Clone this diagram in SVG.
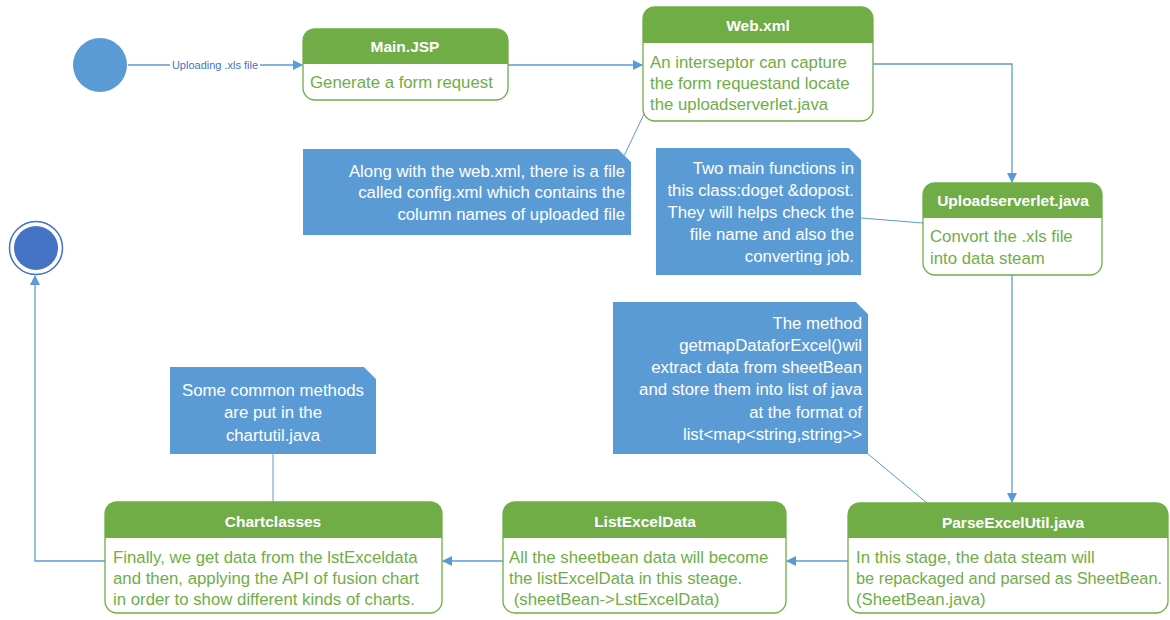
<svg xmlns="http://www.w3.org/2000/svg" width="1170" height="620" viewBox="0 0 1170 620">
<defs>
<style>
.box{fill:#fff;stroke:#70AD47;stroke-width:1.3}
.hdr{fill:#70AD47}
.title{font-family:"Liberation Sans",Arial,sans-serif;font-size:15.5px;font-weight:bold;fill:#fff;text-anchor:middle}
.body{font-family:"Liberation Sans",Arial,sans-serif;font-size:16.8px;fill:#70AD47}
.note{fill:#5B9BD5}
.fold{fill:none;stroke:#BDD7EE;stroke-width:1}
.ntext{font-family:"Liberation Sans",Arial,sans-serif;font-size:16.8px;fill:#fff}
.edge{fill:none;stroke:#5B9BD5;stroke-width:1.3}
.link{fill:none;stroke:#5B9BD5;stroke-width:1}
.lbl{font-family:"Liberation Sans",Arial,sans-serif;font-size:11px;fill:#4472C4}
</style>
<marker id="arr" markerWidth="10" markerHeight="10" refX="9" refY="5" orient="auto" markerUnits="userSpaceOnUse">
<path d="M0,0 L10,5 L0,10 Z" fill="#5B9BD5"/>
</marker>
</defs>
<rect width="1170" height="620" fill="#fff"/>

<g id="connectors">
<path class="edge" d="M128,65 H170 M260,65 H302" marker-end="url(#arr)"/>
<text class="lbl" x="215" y="68.5" text-anchor="middle">Uploading .xls file</text>
<path class="edge" d="M508,65 H642" marker-end="url(#arr)"/>
<path class="edge" d="M873,64 H1012 V182" marker-end="url(#arr)"/>
<path class="edge" d="M1012,275 V502" marker-end="url(#arr)"/>
<path class="edge" d="M848,561 H787" marker-end="url(#arr)"/>
<path class="edge" d="M503,561 H443" marker-end="url(#arr)"/>
<path class="edge" d="M105,561 H35 V276" marker-end="url(#arr)"/>
<path class="link" d="M624,156 L645,112"/>
<path class="link" d="M861,218 L923,223"/>
<path class="link" d="M868,454 L927,503"/>
<path class="link" d="M273,454 V502"/>
</g>

<g id="start">
<circle cx="100" cy="65" r="27" fill="#5B9BD5"/>
</g>

<g id="end">
<circle cx="36" cy="248" r="26.5" fill="#fff" stroke="#4472C4" stroke-width="1.5"/>
<circle cx="36" cy="248" r="22" fill="#4472C4"/>
</g>

<g id="mainjsp">
<rect class="box" x="303" y="29" width="205" height="71" rx="12"/>
<path class="hdr" d="M303,64 V41 Q303,29 315,29 H496 Q508,29 508,41 V64 Z"/>
<text class="title" x="405" y="52">Main.JSP</text>
<text class="body" x="310" y="88">Generate a form request</text>
</g>

<g id="webxml">
<rect class="box" x="643" y="7" width="230" height="114" rx="12"/>
<path class="hdr" d="M643,43 V19 Q643,7 655,7 H861 Q873,7 873,19 V43 Z"/>
<text class="title" x="758" y="31">Web.xml</text>
<text class="body" x="650" y="68">An interseptor can capture</text>
<text class="body" x="650" y="89">the form requestand locate</text>
<text class="body" x="650" y="110">the uploadserverlet.java</text>
</g>

<g id="uploadserverlet">
<rect class="box" x="923" y="183" width="179" height="92" rx="12"/>
<path class="hdr" d="M923,218 V195 Q923,183 935,183 H1090 Q1102,183 1102,195 V218 Z"/>
<text class="title" x="1013" y="206">Uploadserverlet.java</text>
<text class="body" x="930" y="242">Convort the .xls file</text>
<text class="body" x="930" y="264">into data steam</text>
</g>

<g id="parseexcelutil">
<rect class="box" x="848" y="503" width="320" height="110" rx="12"/>
<path class="hdr" d="M848,538 V515 Q848,503 860,503 H1156 Q1168,503 1168,515 V538 Z"/>
<text class="title" x="1013" y="528">ParseExcelUtil.java</text>
<text class="body" x="856" y="563">In this stage, the data steam will</text>
<text class="body" x="856" y="584" textLength="306" lengthAdjust="spacingAndGlyphs">be repackaged and parsed as SheetBean.</text>
<text class="body" x="856" y="605">(SheetBean.java)</text>
</g>

<g id="listexceldata">
<rect class="box" x="503" y="502" width="283" height="111" rx="12"/>
<path class="hdr" d="M503,538 V514 Q503,502 515,502 H774 Q786,502 786,514 V538 Z"/>
<text class="title" x="645" y="527">ListExcelData</text>
<text class="body" x="509" y="563">All the sheetbean data will become</text>
<text class="body" x="509" y="584">the listExcelData in this steage.</text>
<text class="body" x="509" y="605" xml:space="preserve"> (sheetBean-&gt;LstExcelData)</text>
</g>

<g id="chartclasses">
<rect class="box" x="105" y="502" width="337" height="111" rx="12"/>
<path class="hdr" d="M105,538 V514 Q105,502 117,502 H430 Q442,502 442,514 V538 Z"/>
<text class="title" x="273" y="527">Chartclasses</text>
<text class="body" x="113" y="563">Finally, we get data from the lstExceldata</text>
<text class="body" x="113" y="584">and then, applying the API of fusion chart</text>
<text class="body" x="113" y="605">in order to show different kinds of charts.</text>
</g>

<g id="note-config">
<path class="note" d="M303,149 H618 L631,162 V235 H303 Z"/>
<path class="fold" d="M618,149 L631,162"/>
<text class="ntext" x="625" y="177" text-anchor="end">Along with the web.xml, there is a file</text>
<text class="ntext" x="625" y="198" text-anchor="end">called config.xml which contains the</text>
<text class="ntext" x="625" y="220" text-anchor="end">column names of uploaded file</text>
</g>

<g id="note-functions">
<path class="note" d="M656,148 H849 L861,160 V275 H656 Z"/>
<path class="fold" d="M849,148 L861,160"/>
<text class="ntext" x="854" y="174" text-anchor="end">Two main functions in</text>
<text class="ntext" x="854" y="196" text-anchor="end">this class:doget &amp;dopost.</text>
<text class="ntext" x="854" y="218" text-anchor="end">They will helps check the</text>
<text class="ntext" x="854" y="240" text-anchor="end">file name and also the</text>
<text class="ntext" x="854" y="262" text-anchor="end">converting job.</text>
</g>

<g id="note-method">
<path class="note" d="M613,302 H856 L868,314 V454 H613 Z"/>
<path class="fold" d="M856,302 L868,314"/>
<text class="ntext" x="862" y="329" text-anchor="end">The method</text>
<text class="ntext" x="862" y="351" text-anchor="end">getmapDataforExcel()wil</text>
<text class="ntext" x="862" y="373" text-anchor="end">extract data from sheetBean</text>
<text class="ntext" x="862" y="395" text-anchor="end">and store them into list of java</text>
<text class="ntext" x="862" y="418" text-anchor="end">at the format of</text>
<text class="ntext" x="862" y="440" text-anchor="end">list&lt;map&lt;string,string&gt;&gt;</text>
</g>

<g id="note-chartutil">
<path class="note" d="M170,367 H364 L376,379 V454 H170 Z"/>
<path class="fold" d="M364,367 L376,379"/>
<text class="ntext" x="273" y="396" text-anchor="middle">Some common methods</text>
<text class="ntext" x="273" y="418" text-anchor="middle">are put in the</text>
<text class="ntext" x="273" y="441" text-anchor="middle">chartutil.java</text>
</g>
</svg>
